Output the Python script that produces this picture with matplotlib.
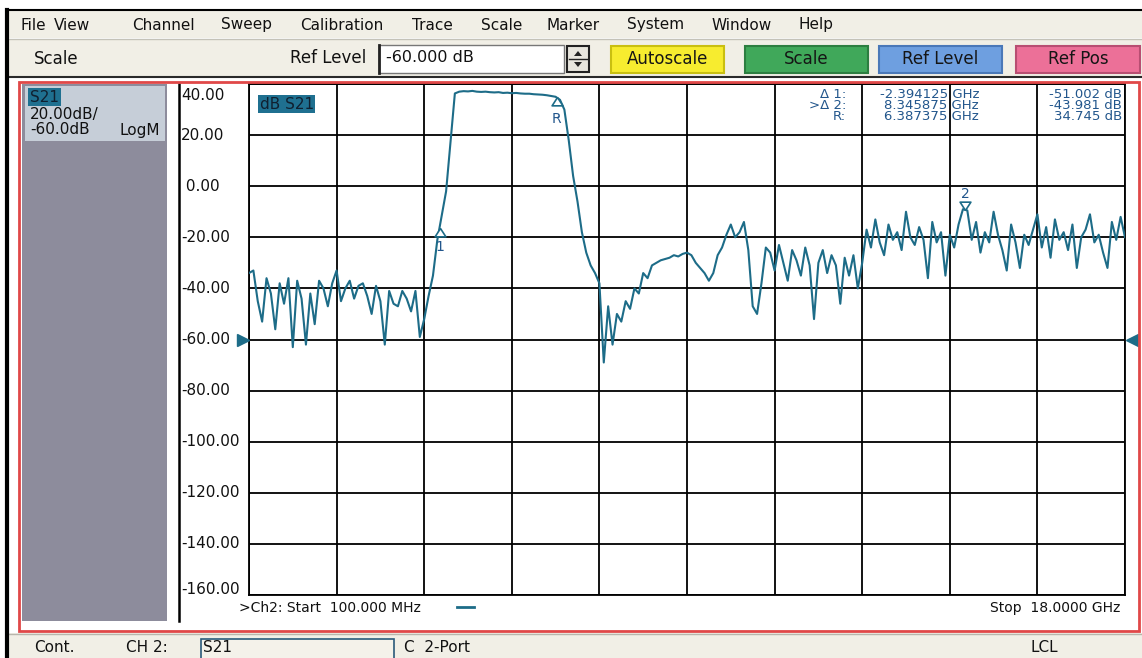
import matplotlib
matplotlib.use('Agg')
import matplotlib.pyplot as plt
import numpy as np
from matplotlib.patches import Rectangle, Polygon
from matplotlib.path import Path

plt.rcParams['font.family'] = ['DejaVu Sans']

W, H = 1142, 658

# sweep settings (GHz)
f_start = 0.1
f_stop = 18.0

# S21 magnitude in dB, one value per sweep point (201 points)
s21_db = [
    -34, -33, -45, -53, -36, -42, -56, -38, -46, -36,
    -63, -37, -44, -62, -42, -54, -37, -40, -47, -38,
    -33, -45, -40, -37, -44, -39, -38, -43, -50, -39,
    -45, -62, -41, -46, -47, -41, -44, -49, -41, -59,
    -52, -43, -35, -21, -11.5, -2, 17, 36.3,
    37.0, 37.2, 37.1, 37.3, 37.0, 36.9, 37.0, 36.8, 36.7, 36.8,
    36.5, 36.6, 36.4, 36.5, 36.3, 36.2, 36.2, 36.0, 35.9, 35.8,
    35.6, 35.3, 35.0, 33.8,
    30, 18, 4, -6, -18, -26, -31, -34, -38, -69,
    -47, -62, -50, -53, -45, -48, -40, -42, -34, -36,
    -31, -30, -29, -28.5, -28, -27, -27.5, -26.5, -26, -27,
    -30, -32, -34, -37, -34, -27, -24, -19, -15, -20,
    -18, -14, -25, -47, -50, -38, -24,
    -26, -33, -23, -30, -37, -25, -29, -35, -24, -31,
    -52, -30, -25, -34, -27, -31, -46, -28, -35, -27,
    -40, -30,
    -17, -24, -13, -22, -27, -15, -21, -18, -25, -10,
    -20, -23, -16, -21, -36, -14, -22, -18, -35, -19,
    -24, -15, -9, -9.5, -21, -14, -26, -18, -22, -10,
    -19, -25, -33, -15, -22, -32, -19, -23, -17, -11,
    -24, -16, -28, -13, -21, -18, -25, -15, -32, -20,
    -17, -11, -22, -19, -26, -32, -14, -21, -12, -20,
]

# marker readout: reference marker and two delta markers
ref_f, ref_db = 6.387375, 34.745
d1_f, d1_db = -2.394125, -51.002
d2_f, d2_db = 8.345875, -43.981

ref_level = -60.0
scale_div = 20.0
y_ticks = [40, 20, 0, -20, -40, -60, -80, -100, -120, -140, -160]

menu_items = ['File', 'View', 'Channel', 'Sweep', 'Calibration', 'Trace',
              'Scale', 'Marker', 'System', 'Window', 'Help']
menu_x = [20, 54, 132, 221, 300, 412, 481, 547, 627, 711, 799]

buttons = ['Autoscale', 'Scale', 'Ref Level', 'Ref Pos']
button_x = [(611, 724), (745, 868), (879, 1002), (1016, 1140)]
button_fc = ['#f7ec2f', '#40a85a', '#6e9fe0', '#ec7098']
button_ec = ['#c9bf10', '#2c7e40', '#4a78b8', '#b84e72']

beige = '#f1efe6'
teal = '#1d6c88'
mk_blue = '#22568c'
red = '#e04848'

fig = plt.figure(figsize=(W / 100, H / 100), dpi=100, facecolor='white')

# background layer in pixel coordinates
ui = fig.add_axes([0, 0, 1, 1], zorder=0)
ui.set_xlim(0, W)
ui.set_ylim(H, 0)
ui.axis('off')


def box(a, x0, y0, x1, y1, fc, ec='none', lw=1.0, z=1):
    a.add_patch(Rectangle((x0, y0), x1 - x0, y1 - y0, fc=fc, ec=ec, lw=lw, zorder=z))


# window frame, menu bar, toolbar, status bar
box(ui, 9, 11, W, 38, beige)
ui.plot([9, W], [39, 39], color='#c4c2b8', lw=1)
box(ui, 9, 40, W, 76, beige)
ui.plot([9, W], [77, 77], color='#2a2a2a', lw=1.5)
box(ui, 9, 633, W, H, beige)
ui.plot([9, W], [633.5, 633.5], color='#b8b6ac', lw=1)
ui.plot([7, 7], [10, H], color='black', lw=3)
ui.plot([7, W], [10, 10], color='black', lw=1.5)

for name, x in zip(menu_items, menu_x):
    ui.text(x, 25, name, fontsize=11, va='center', ha='left', color='#111111')

ui.text(34, 59, 'Scale', fontsize=12, va='center', color='#111111')
ui.text(290, 58, 'Ref Level', fontsize=12, va='center', color='#111111')
box(ui, 379, 45, 564, 73, 'white', ec='#777777', lw=1)
ui.plot([379, 379], [45, 73], color='#222222', lw=2)
ui.text(386, 58, f'{ref_level:.3f} dB', fontsize=11.5, va='center', color='#111111')
box(ui, 567, 46, 589, 72, '#e8e6de', ec='#222222', lw=1.5)
ui.plot([569, 587], [59, 59], color='#222222', lw=1)
ui.add_patch(Polygon([[574, 56], [582, 56], [578, 51]], closed=True, fc='#222222', zorder=2))
ui.add_patch(Polygon([[574, 62], [582, 62], [578, 67]], closed=True, fc='#222222', zorder=2))

for label, (x0, x1), fc, ec in zip(buttons, button_x, button_fc, button_ec):
    box(ui, x0, 46, x1, 73, fc, ec=ec, lw=1.5)
    ui.text((x0 + x1) / 2, 59.5, label, fontsize=12, ha='center', va='center', color='#151515')

ui.text(34, 648, 'Cont.', fontsize=11, va='center', color='#111111')
ui.text(126, 648, 'CH 2:', fontsize=11, va='center', color='#111111')
box(ui, 201, 639, 394, 659, '#f4f2ea', ec='#2a5a7a', lw=1.2)
ui.text(203, 648, 'S21', fontsize=11, va='center', color='#111111')
ui.text(404, 648, 'C  2-Port', fontsize=11, va='center', color='#111111')
ui.text(1030, 648, 'LCL', fontsize=11, va='center', color='#111111')

# channel window: trace info panel and scale column
box(ui, 22, 84, 167, 621, '#8d8c9c')
box(ui, 25, 86, 165, 141, '#c6ced8')
ui.text(30, 97, 'S21', fontsize=11, va='center', color='#102030',
        bbox=dict(boxstyle='square,pad=0.1', fc='#1f7090', ec='none'))
ui.text(30, 114, f'{scale_div:.2f}dB/', fontsize=11, va='center', color='#111111')
ui.text(30, 130, f'{ref_level:.1f}dB', fontsize=11, va='center', color='#111111')
ui.text(160, 130, 'LogM', fontsize=11, va='center', ha='right', color='#111111')
ui.plot([178.5, 178.5], [84, 621], color='black', lw=1.8)

y_top, y_bot = 84, 595
for v in y_ticks:
    yp = y_top + (40 - v) * (y_bot - y_top) / 200
    yp = min(max(yp, 95), 590)
    txt = f'{v:.2f}' if v != 0 else ' 0.00'
    ui.text(181, yp, txt, fontsize=11, va='center', ha='left', color='#111111')

start_txt = f'>Ch2: Start  {f_start * 1000:.3f} MHz'
ui.text(239, 608, start_txt, fontsize=10, va='center', color='#111111')
ui.plot([457, 474], [607, 607], color=teal, lw=2)
ui.text(1120, 608, f'Stop  {f_stop:.4f} GHz', fontsize=10, va='center', ha='right', color='#111111')

# measurement grid and trace
ax = fig.add_axes([249 / W, 1 - y_bot / H, (1125 - 249) / W, (y_bot - y_top) / H], zorder=2)
ax.set_xlim(f_start, f_stop)
ax.set_ylim(-160, 40)
ax.set_xticks(np.linspace(f_start, f_stop, 11))
ax.set_yticks(y_ticks)
ax.grid(True, color='black', lw=1.3)
ax.tick_params(length=0, labelbottom=False, labelleft=False)
for s in ax.spines.values():
    s.set_color('black')
    s.set_linewidth(1.3)

freq = np.linspace(f_start, f_stop, len(s21_db))
ax.plot(freq, s21_db, color=teal, lw=1.5, zorder=3)

ax.text(0.012, 0.975, 'dB S21', transform=ax.transAxes, fontsize=11, va='top', color='#102030',
        bbox=dict(boxstyle='square,pad=0.1', fc='#1f7090', ec='none'), zorder=5)

# markers: apex sits on the trace
tri_up = Path([(0, 0), (-0.55, -0.85), (0.55, -0.85), (0, 0)])
tri_dn = Path([(0, 0), (-0.55, 0.85), (0.55, 0.85), (0, 0)])
m1_f, m1_db = ref_f + d1_f, ref_db + d1_db
m2_f, m2_db = ref_f + d2_f, ref_db + d2_db

ax.plot([ref_f, m1_f], [ref_db, m1_db], ls='none', marker=tri_up, ms=12,
        mfc='white', mec=teal, mew=1.2, zorder=4)
ax.plot([m2_f], [m2_db], ls='none', marker=tri_dn, ms=12,
        mfc='white', mec=teal, mew=1.2, zorder=4)
ax.annotate('R', (ref_f, ref_db), xytext=(0, -22), textcoords='offset pixels',
            ha='center', va='center', fontsize=10, color=mk_blue, zorder=5)
ax.annotate('1', (m1_f, m1_db), xytext=(0, -19), textcoords='offset pixels',
            ha='center', va='center', fontsize=10, color=mk_blue, zorder=5)
ax.annotate('2', (m2_f, m2_db), xytext=(0, 16), textcoords='offset pixels',
            ha='center', va='center', fontsize=10, color=mk_blue, zorder=5)

# reference level arrows on both sides
ax.plot([-0.0065], [ref_level], marker='>', ms=8, color=teal, clip_on=False,
        transform=ax.get_yaxis_transform(), zorder=5)
ax.plot([1.0085], [ref_level], marker='<', ms=8, color=teal, clip_on=False,
        transform=ax.get_yaxis_transform(), zorder=5)

# marker readout and window border drawn over the grid
top = fig.add_axes([0, 0, 1, 1], zorder=4)
top.set_xlim(0, W)
top.set_ylim(H, 0)
top.axis('off')
top.patch.set_alpha(0)
rows = [('\u0394 1:', d1_f, d1_db), ('>\u0394 2:', d2_f, d2_db), ('R:', ref_f, ref_db)]
for k, (lab, fv, dv) in enumerate(rows):
    yp = 94.5 + k * 11
    top.text(846, yp, lab, fontsize=9.5, ha='right', va='center', color=mk_blue)
    top.text(979, yp, f'{fv:.6f} GHz', fontsize=9.5, ha='right', va='center', color=mk_blue)
    top.text(1122, yp, f'{dv:.3f} dB', fontsize=9.5, ha='right', va='center', color=mk_blue)
top.add_patch(Rectangle((19, 82), 1139 - 19, 631 - 82, fc='none', ec=red, lw=2))

fig.savefig('out.png', dpi=100, facecolor='white')
